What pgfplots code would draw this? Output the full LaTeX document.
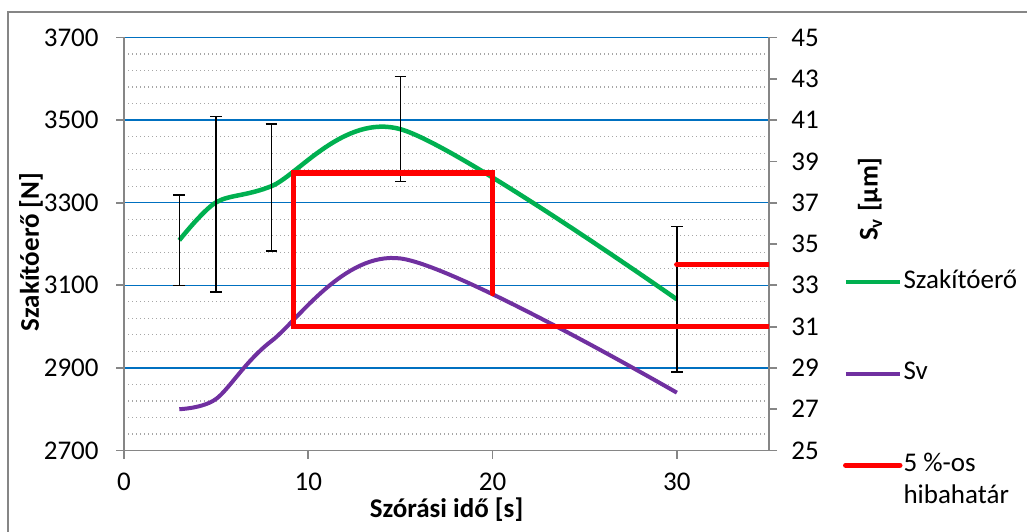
\documentclass[border=0pt]{standalone}
\usepackage{pgfplots}
\pgfplotsset{compat=1.18}
\usepackage{fontspec}
\setmainfont{Carlito}
\definecolor{cgreen}{HTML}{00B050}
\definecolor{cpurple}{HTML}{7030A0}
\definecolor{cred}{HTML}{FF0000}
\definecolor{cblue}{HTML}{0070C0}
\definecolor{caxis}{HTML}{868686}
\definecolor{cminor}{HTML}{A6A6A6}
\begin{document}
\fontsize{13.5bp}{16bp}\selectfont
\begin{tikzpicture}[x=1bp,y=1bp]
\useasboundingbox (0,0) rectangle (513.5,265.5);
\draw[caxis, line width=0.8bp] (4,-1) -- (4,259.5) -- (514,259.5);
\pgfplotsset{
  myaxis/.style={
    scale only axis, width=322.5bp, height=206.5bp,
    at={(62bp,40.25bp)}, anchor=south west,
    xmin=0, xmax=35,
    axis line style={caxis, line width=0.9bp},
    tick style={caxis, line width=0.9bp},
    tick align=outside, major tick length=4bp, minor tick length=0pt,
    /pgf/number format/assume math mode=true,
    /pgf/number format/1000 sep={},
    tick label style={font=\fontsize{13.5bp}{16bp}\selectfont, inner sep=0pt, text=black},
  }
}
\begin{axis}[myaxis,
  ymin=2700, ymax=3700,
  xtick={0,10,20,30}, ytick={2700,2900,...,3700},
  minor y tick num=4,
  axis x line*=bottom, axis y line*=left,
  xtick pos=bottom, ytick pos=left,
  ymajorgrids, yminorgrids,
  major grid style={cblue, line width=0.8bp},
  minor grid style={cminor, line width=0.6bp, dash pattern=on 0.6bp off 1.4bp},
  yticklabel style={anchor=east, xshift=-8.5bp},
  xticklabel style={anchor=north, yshift=-7bp},
]
\addplot[cgreen, line width=2.25bp, smooth,
  error bars/.cd, y dir=both, y explicit,
  error bar style={black, line width=0.75bp},
  error mark options={rotate=90, mark size=2.9bp, black, line width=0.75bp}]
coordinates {
  (3,3209) +- (0,110)
  (5,3301) += (0,208) -= (0,217)
  (8,3340) += (0,150) -= (0,157)
  (15,3478) +- (0,127)
  (30,3066) +- (0,176)
};
\end{axis}
\begin{axis}[myaxis,
  ymin=25, ymax=45,
  ytick={25,27,...,45},
  axis x line=none, axis y line*=right,
  ytick pos=right,
  yticklabel style={anchor=west, xshift=7bp},
  legend style={at={(rel axis cs:1.1141,0.4378)}, anchor=north west,
    draw=none, fill=none, inner sep=0pt, row sep=33.8bp, column sep=0.5bp,
    font=\fontsize{13.5bp}{16bp}\selectfont,
    nodes={inner sep=0pt, text height=9bp, text depth=3bp, anchor=west}},
  legend image code/.code={\draw[#1] (0bp,0bp) -- (27bp,0bp);},
  legend cell align=left,
]
\addlegendimage{cgreen, line width=2.25bp}
\addlegendentry{Szakítóerő}
\addplot[cpurple, line width=2bp, smooth] coordinates {
  (3,27.0) (5,27.5) (8,30.3) (15,34.3) (30,27.8)
};
\addlegendentry{Sv}
\addplot[cred, line width=2.75bp, line cap=round] coordinates {
  (35,31) (9.2,31) (9.2,38.45) (20,38.45) (20,32.6)
};
\addlegendentry{\rlap{\raisebox{-16bp}[0pt][0pt]{hibahatár}}5 \%-os}
\addplot[cred, line width=2.75bp, line cap=round, forget plot] coordinates {
  (30,34) (35,34)
};
\end{axis}
\node[rotate=90, font=\bfseries] at (15.5,139.5) {Szakítóerő [N]};
\node[rotate=90, font=\bfseries] at (435,166) {S\textsubscript{v} [µm]};
\node[anchor=base, font=\bfseries, inner sep=0pt] at (223.25,7) {Szórási idő [s]};
\end{tikzpicture}
\end{document}
